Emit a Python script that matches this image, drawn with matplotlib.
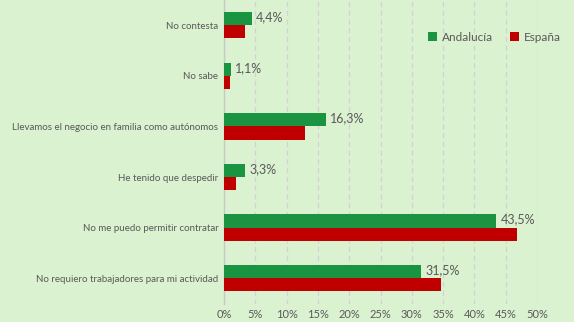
import matplotlib
matplotlib.use("Agg")
import matplotlib.pyplot as plt
import numpy as np
from matplotlib.ticker import FuncFormatter, MultipleLocator

categories = [
    "No contesta",
    "No sabe",
    "Llevamos el negocio en familia como autónomos",
    "He tenido que despedir",
    "No me puedo permitir contratar",
    "No requiero trabajadores para mi actividad",
]
andalucia = [4.4, 1.1, 16.3, 3.3, 43.5, 31.5]
espana = [3.4, 1.0, 12.9, 1.9, 46.8, 34.6]
series_names = ["Andalucía", "España"]

bg = "#DAF2D0"
green = "#1B9441"
red = "#C00000"
text_col = "#595959"

plt.rcParams["font.family"] = ["Lato", "DejaVu Sans"]

fig = plt.figure(figsize=(5.74, 3.22), dpi=100, facecolor=bg)
ax = fig.add_axes([224 / 574, 18.5 / 322, (537 - 224) / 574, 303.5 / 322])
ax.set_facecolor(bg)

y = np.arange(len(categories))
h = 0.26
ax.barh(y - h / 2, andalucia, height=h, color=green, label=series_names[0], zorder=3)
ax.barh(y + h / 2, espana, height=h, color=red, label=series_names[1], zorder=3)

for val, yy in zip(andalucia, y):
    ax.text(val + 0.7, yy - h / 2 - 0.03, f"{val:.1f}%".replace(".", ","),
            va="center", ha="left", fontsize=9, color=text_col, zorder=4)

ax.set_ylim(len(categories) - 0.5, -0.5)
ax.set_xlim(0, 50)
ax.set_yticks(y)
ax.set_yticklabels(categories, fontsize=7, color=text_col)
ax.xaxis.set_major_locator(MultipleLocator(5))
ax.xaxis.set_major_formatter(FuncFormatter(lambda v, p: f"{v:.0f}%"))
ax.tick_params(axis="x", labelsize=8, colors=text_col, length=0, pad=4)
ax.tick_params(axis="y", length=0, pad=4)

ax.grid(axis="x", color="#D6D0D6", linestyle=(0, (4, 3)), linewidth=0.9, zorder=0)
ax.set_axisbelow(True)
for s in ["top", "right", "bottom"]:
    ax.spines[s].set_visible(False)
ax.spines["left"].set_color("#C8C8C8")
ax.spines["left"].set_linewidth(1)

ax.legend(loc="upper right", bbox_to_anchor=(1.11, 0.93), ncol=2, frameon=False,
          fontsize=8.5, handlelength=0.8, handleheight=0.8, handletextpad=0.4,
          columnspacing=1.4, labelcolor=text_col)

fig.savefig("out.png", dpi=100, facecolor=bg)
